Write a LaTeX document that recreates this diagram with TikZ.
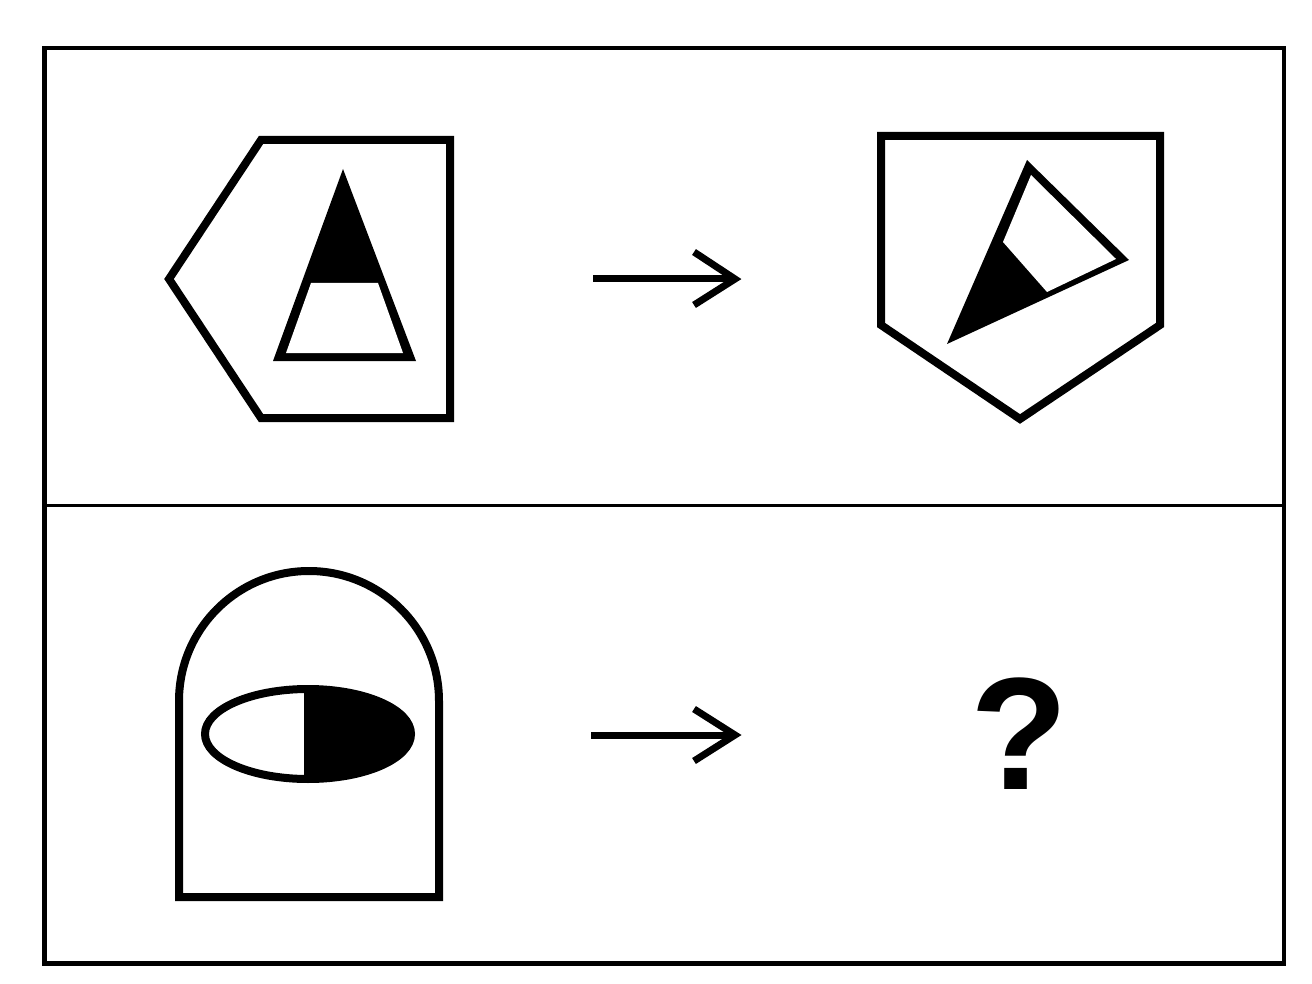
\documentclass[tikz,border=0pt]{standalone}
\usepackage{fontspec}
\setmainfont{Liberation Sans}
\begin{document}
\begin{tikzpicture}[x=1pt,y=-1pt,
  frame/.style={line width=4.5pt},
  divider/.style={line width=3pt},
  figline/.style={line width=8pt, line join=miter},
  arrowline/.style={line width=7pt},
  arrowhead/.style={line width=7pt, line join=miter}]
\useasboundingbox (0,0) rectangle (1312,984);
\fill[white] (0,0) rectangle (1312,984);
% frame
\draw[frame] (44.5,48) rectangle (1284,963.5);
\coordinate (dl) at (44.5,505);
\coordinate (dr) at (1284,505);
\draw[divider] (dl) -- (dr);
% hexagon with triangle
\draw[figline] (261,140) -- (450,140) -- (450,418) -- (261,418) -- (169,279) -- cycle;
\fill (343,169) -- (416,361) -- (273,361) -- cycle;
\fill[white] (311,283) -- (378,283) -- (403,353) -- (286,353) -- cycle;
% pentagon with rotated triangle
\draw[figline] (881,136) -- (1160,136) -- (1160,325) -- (1020,419) -- (881,325) -- cycle;
\fill (1027,160) -- (1129,260) -- (947,344) -- cycle;
\fill[white] (1003,242) -- (1031,175) -- (1116,259) -- (1047,292) -- cycle;
% top arrow
\coordinate (a1s) at (593,279);
\coordinate (a1e) at (735,279);
\coordinate (a1u) at (694,252);
\coordinate (a1d) at (694,305);
\draw[arrowline] (a1s) -- (a1e);
\draw[arrowhead] (a1u) -- (a1e) -- (a1d);
% arch with ellipse
\draw[figline] (179,897) -- (179,701) arc[start angle=180, end angle=360, radius=130] -- (439,897) -- cycle;
\begin{scope}
  \clip (304,680) rectangle (420,790);
  \fill (308,734) ellipse[x radius=103, y radius=45];
\end{scope}
\draw[figline] (308,734) ellipse[x radius=103, y radius=45];
% bottom arrow
\coordinate (a2s) at (591,735);
\coordinate (a2e) at (735,735);
\coordinate (a2u) at (694,709);
\coordinate (a2d) at (694,761);
\draw[arrowline] (a2s) -- (a2e);
\draw[arrowhead] (a2u) -- (a2e) -- (a2d);
% question mark
\node[inner sep=0pt] (q) at (1019,734) {\fontsize{160}{160}\selectfont\bfseries ?};
\end{tikzpicture}
\end{document}
